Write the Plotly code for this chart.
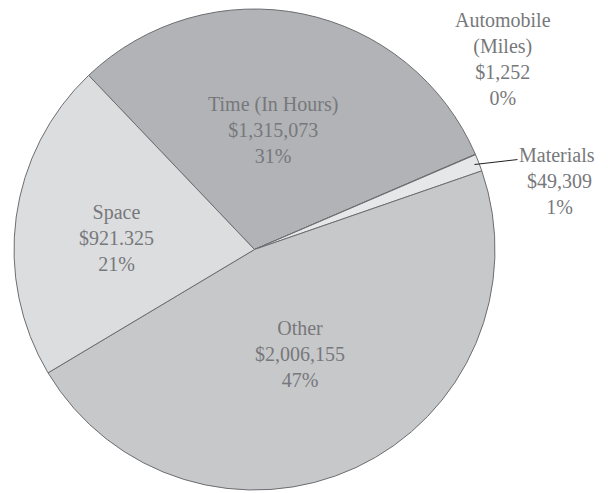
import plotly.graph_objects as go

# ---- data ----
categories = ["Time (In Hours)", "Automobile<br>(Miles)", "Materials", "Other", "Space"]
values = [1315073, 1252, 49309, 2006155, 921325]
value_labels = ["$1,315,073", "$1,252", "$49,309", "$2,006,155", "$921.325"]
percent_labels = ["31%", "0%", "1%", "47%", "21%"]

# ---- styles ----
slice_colors = ["#b1b3b6", "#d1d3d4", "#e6e7e8", "#c7c8ca", "#dcdddf"]
text_color = "#77787b"
edge_color = "#6d6e71"
FONT = "Liberation Serif"
W, H = 608, 493

# label block centres in pixels (layout only)
label_pos = [(272.5, 129.5), (503, 58.5), (557, 155), (300, 353.5), (116, 237.5)]

def px(x, y):
    return x / W, 1 - y / H

fig = go.Figure()
fig.add_trace(go.Pie(
    labels=categories,
    values=values,
    sort=False,
    direction="clockwise",
    rotation=-43.6,
    marker=dict(colors=slice_colors, line=dict(color=edge_color, width=1)),
    textinfo="none",
    hoverinfo="label+value+percent",
    showlegend=False,
    domain=dict(x=[14 / W, 495 / W], y=[3 / H, 484 / H]),
))

annotations = []
for i, name in enumerate(categories):
    x, y = px(*label_pos[i])
    if name == "Materials":
        tx, ty = px(474.5, 164.5)
        annotations.append(dict(
            x=tx, y=ty, xref="paper", yref="paper",
            text=name, showarrow=True, arrowhead=0, arrowwidth=1,
            arrowcolor="#231f20", standoff=0,
            ax=label_pos[i][0] - 474.5, ay=label_pos[i][1] - 164.5,
            font=dict(family=FONT, size=20, color=text_color),
        ))
        x2, y2 = px(label_pos[i][0] + 2, label_pos[i][1] + 39)
        annotations.append(dict(
            x=x2, y=y2, xref="paper", yref="paper",
            text=value_labels[i] + "<br>" + percent_labels[i],
            showarrow=False, xanchor="center", yanchor="middle",
            font=dict(family=FONT, size=20, color=text_color),
        ))
    else:
        annotations.append(dict(
            x=x, y=y, xref="paper", yref="paper",
            text=name + "<br>" + value_labels[i] + "<br>" + percent_labels[i],
            showarrow=False, xanchor="center", yanchor="middle",
            font=dict(family=FONT, size=20, color=text_color),
        ))

fig.update_layout(
    width=W, height=H,
    margin=dict(l=0, r=0, t=0, b=0),
    paper_bgcolor="white",
    plot_bgcolor="white",
    annotations=annotations,
    font=dict(family=FONT),
)

fig.write_html(
    "out.html",
    config={"displayModeBar": False},
    post_script="document.body.style.margin='0';document.body.style.overflow='hidden';",
)
